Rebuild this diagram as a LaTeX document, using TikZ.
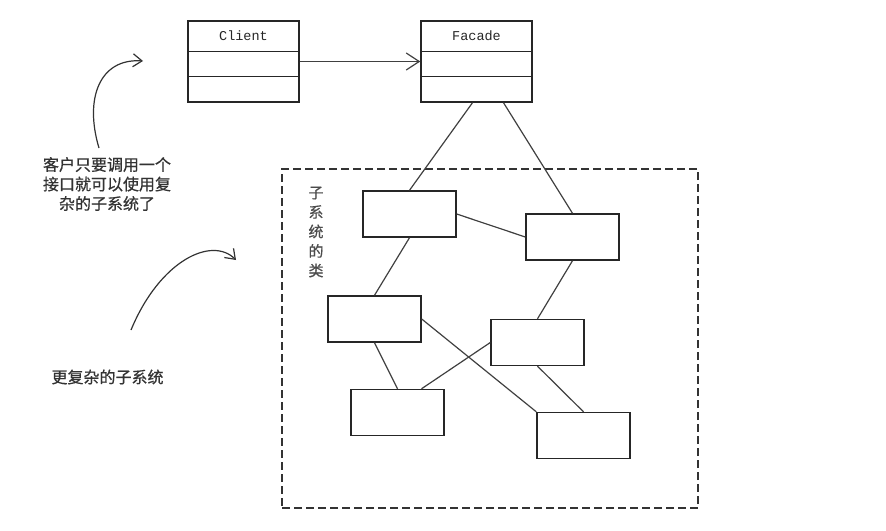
\documentclass[tikz,border=0pt]{standalone}
\usepackage{fontspec}
\newfontfamily\cjk[FakeBold=0.6]{Noto Sans CJK SC}
\setmonofont{Liberation Mono}
\usetikzlibrary{arrows.meta}
\begin{document}
\begin{tikzpicture}[x=1pt,y=-1pt,
  umlclass/.style={draw=black!85, line width=1.4pt, minimum width=111pt, minimum height=81pt, inner sep=0pt},
  subbox/.style={draw=black!85, line width=1.4pt, minimum width=93pt, minimum height=46pt, inner sep=0pt},
  link/.style={draw=black!75, line width=1.2pt},
  divider/.style={draw=black!85, line width=1.2pt},
  classname/.style={font=\ttfamily\fontsize{13.5}{16}\selectfont, text=black!85},
  note/.style={font=\cjk\fontsize{16}{19.5}\selectfont, text=black!80},
  vlabel/.style={font=\cjk\fontsize{15}{19.5}\selectfont, text=black!70, align=center},
  sysframe/.style={draw=black!80, line width=1.2pt, dash pattern=on 8pt off 4pt, minimum width=416pt, minimum height=339pt, inner sep=0pt},
  hand/.style={draw=black!80, line width=1.2pt, -{Straight Barb[length=9pt,width=13pt]}},
  assoc/.style={link, -{Straight Barb[length=13pt,width=17pt]}}
]
\useasboundingbox (0,0) rectangle (886,530);

% Client and Facade classes
\node[umlclass] (C) at (243.5,61.5) {};
\node[umlclass] (F) at (476.5,61.5) {};
\foreach \n in {C,F}{
  \draw[divider] ([yshift=-31pt]\n.north west) -- ([yshift=-31pt]\n.north east);
  \draw[divider] ([yshift=-56pt]\n.north west) -- ([yshift=-56pt]\n.north east);
}
\node[classname] (Ct) at ([yshift=-15pt]C.north) {Client};
\node[classname] (Ft) at ([yshift=-15pt]F.north) {Facade};
\draw[assoc] (C) -- (F);

% subsystem frame
\node[sysframe] (sys) at (490,338.5) {};
\node[vlabel] (vl) at (316,232) {子\\系\\统\\的\\类};

% subsystem classes
\node[subbox] (B1) at (409.5,214) {};
\node[subbox] (B2) at (572.5,237) {};
\node[subbox] (B3) at (374.5,319) {};
\node[subbox] (B4) at (537.5,342.5) {};
\node[subbox] (B5) at (397.5,412.5) {};
\node[subbox] (B6) at (583.5,435.5) {};

\draw[link] ([xshift=-4pt]F.south) -- (B1.north);
\draw[link] ([xshift=27pt]F.south) -- (B2.north);
\draw[link] (B1.east) -- (B2.west);
\draw[link] (B1.south) -- (B3.north);
\draw[link] (B2.south) -- (B4.north);
\draw[link] (B3.east) -- (B6.north west);
\draw[link] (B3.south) -- (B5.north);
\draw[link] (B4.west) -- ([xshift=24pt]B5.north);
\draw[link] (B4.south) -- (B6.north);

% notes
\node[note, align=center] (n1) at (107,184) {客户只要调用一个\\接口就可以使用复\\杂的子系统了};
\node[note, anchor=west] (n2) at (48,377) {更复杂的子系统};

\coordinate (a1s) at (99,148);
\coordinate (a1e) at (143,61);
\draw[hand] (a1s) .. controls (84,98) and (100,58) .. (a1e);
\coordinate (a2s) at (131,330);
\coordinate (a2e) at (236,260);
\draw[hand] (a2s) .. controls (160,260) and (212,236) .. (a2e);
\end{tikzpicture}
\end{document}
